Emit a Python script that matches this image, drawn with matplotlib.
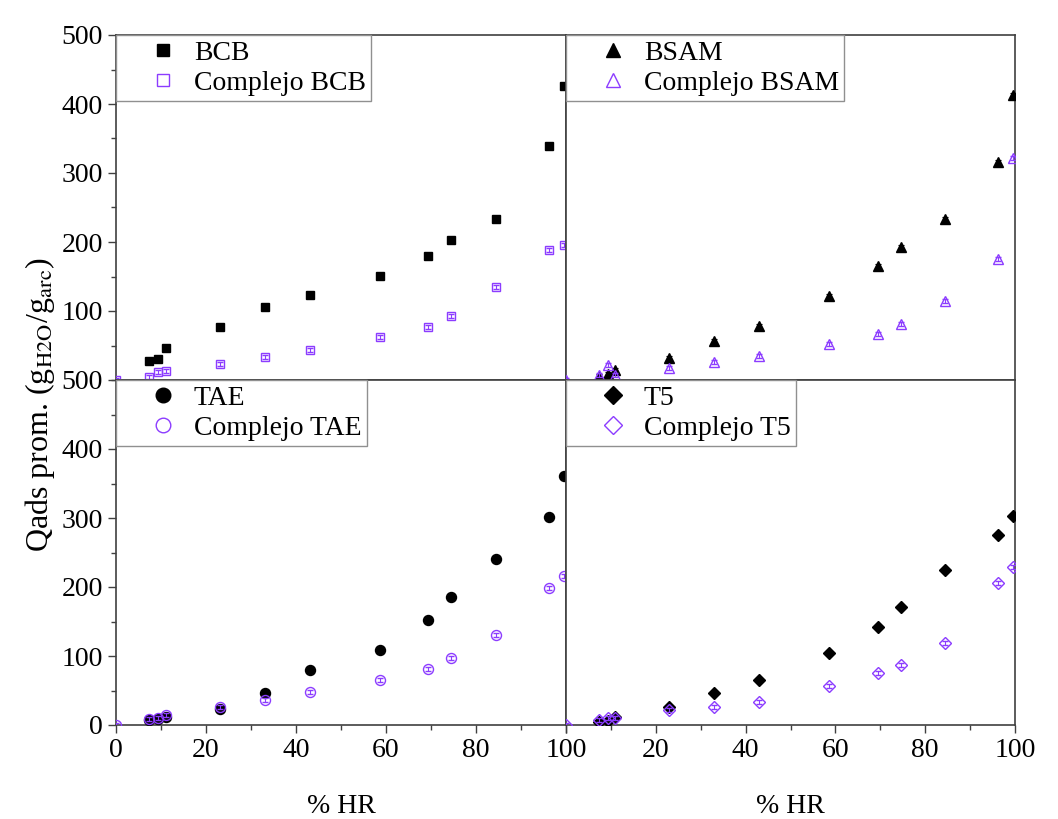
import matplotlib.pyplot as plt
from matplotlib.lines import Line2D
from matplotlib.ticker import MultipleLocator

plt.rc('font', family='Liberation Serif')
plt.rc('mathtext', fontset='stix')

# relative humidity (%) of the sorption points
hr = [7.3, 9.4, 11, 23, 33, 43, 58.6, 69.4, 74.5, 84.5, 96.2, 99.5]
hr_c = [0] + hr

# black series (clays)
bcb = [27, 30, 46, 77, 106, 123, 151, 180, 203, 233, 339, 426]
bsam = [5, 8, 14, 32, 57, 78, 122, 165, 193, 233, 316, 413]
tae = [7, 9, 12, 23, 46, 80, 109, 152, 186, 241, 302, 361]
t5 = [4, 6, 12, 26, 46, 65, 104, 142, 171, 225, 275, 303]

# purple series (complexes), first point at origin
c_bcb = [0, 4, 11, 13, 23, 33, 43, 62, 77, 93, 135, 188, 196]
c_bsam = [0, 7, 22, 7, 17, 26, 35, 52, 67, 81, 114, 175, 322]
c_tae = [0, 9, 10, 14, 26, 36, 48, 65, 81, 97, 130, 198, 216]
c_t5 = [0, 7, 10, 10, 22, 26, 33, 57, 75, 87, 119, 206, 229]

# rough size of the small error bars
err = 3

purple = '#8c3cff'

fig = plt.figure(figsize=(10.58, 8.19), dpi=100)
W, H = 1058.0, 819.0
x0, xm, x1 = 116 / W, 566 / W, 1015 / W
y0, ym, y1 = 1 - 725 / H, 1 - 380 / H, 1 - 35 / H

ax_tl = fig.add_axes([x0, ym, xm - x0, y1 - ym])
ax_tr = fig.add_axes([xm, ym, x1 - xm, y1 - ym])
ax_bl = fig.add_axes([x0, y0, xm - x0, ym - y0])
ax_br = fig.add_axes([xm, y0, x1 - xm, ym - y0])

# axis, clay values, complex values, marker, name, marker size, legend marker size
panels = [
    (ax_tl, bcb, c_bcb, 's', 'BCB', 5.8, 8.5),
    (ax_tr, bsam, c_bsam, '^', 'BSAM', 7.5, 10.5),
    (ax_bl, tae, c_tae, 'o', 'TAE', 7.2, 10.5),
    (ax_br, t5, c_t5, 'D', 'T5', 6.0, 9.0),
]

for ax, y, yc, m, name, ms, lms in panels:
    ax.errorbar(hr, y, yerr=err, fmt=m, color='black', ms=ms, mec='black',
                mfc='black', elinewidth=0.8, capsize=2.5, capthick=0.8,
                zorder=3)
    ax.errorbar(hr_c, yc, yerr=err, fmt=m, color=purple, ms=ms, mec=purple,
                mfc='none', mew=1.0, elinewidth=0.8, capsize=2.5, capthick=0.8,
                zorder=4)
    ax.set_xlim(0, 100)
    ax.set_ylim(0, 500)
    for sp in ax.spines.values():
        sp.set_color('#404040')
        sp.set_linewidth(1.2)
    handles = [
        Line2D([], [], marker=m, ls='none', ms=lms, color='black'),
        Line2D([], [], marker=m, ls='none', ms=lms, mec=purple, mfc='none', mew=1.0),
    ]
    leg = ax.legend(handles, [name, 'Complejo ' + name], loc='upper left',
                    bbox_to_anchor=(0, 1), borderaxespad=0, fontsize=20,
                    frameon=True, fancybox=False, framealpha=1,
                    edgecolor='#909090', handlelength=2.95, handletextpad=-0.35,
                    labelspacing=0.15, borderpad=0.2)
    leg.get_frame().set_linewidth(1.0)
    leg.set_zorder(5)
    ax.tick_params(which='both', direction='out', labelsize=20, color='#404040')
    ax.tick_params(which='major', length=6, width=1.0)
    ax.tick_params(which='minor', length=3.5, width=1.0)

# left column: y ticks
for ax in (ax_tl, ax_bl):
    ax.yaxis.set_major_locator(MultipleLocator(100))
    ax.yaxis.set_minor_locator(MultipleLocator(50))
ax_tl.set_yticks([100, 200, 300, 400, 500])
ax_tl.set_xticks([])

# right column: no y ticks
for ax in (ax_tr, ax_br):
    ax.set_yticks([])
ax_tr.set_xticks([])

# bottom row: x ticks
for ax in (ax_bl, ax_br):
    ax.xaxis.set_major_locator(MultipleLocator(20))
    ax.xaxis.set_minor_locator(MultipleLocator(10))
    ax.set_xlabel('% HR', fontsize=20, labelpad=22)
ax_br.set_xticks([0, 20, 40, 60, 80, 100])
ax_br.set_xticklabels(['', '20', '40', '60', '80', '100'])

fig.text(40 / W, 1 - 405 / H, r'Qads prom. (g$_{\mathrm{H2O}}$/g$_{\mathrm{arc}}$)',
         rotation=90, ha='center', va='center', fontsize=23)

fig.savefig('out.png', dpi=100)
